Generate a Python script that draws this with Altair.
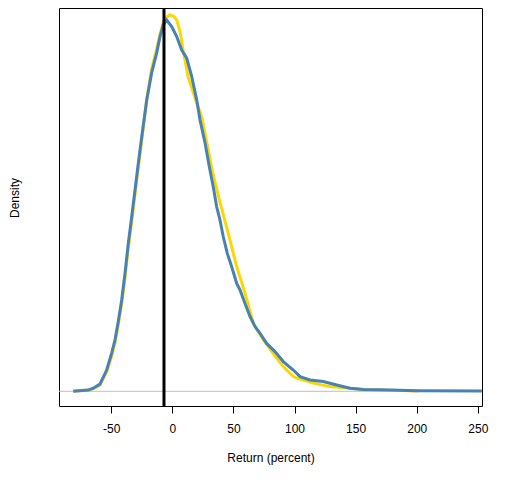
import altair as alt
import pandas as pd

# Blue series (density x 1000)
blue_x = [-81.0, -68.7, -64.6, -59.2, -53.7, -49.6, -46.9, -44.2, -41.4, -38.7, -36.0, -33.2, -30.5,
          -27.8, -25.0, -20.9, -16.9, -12.8, -10.1, -7.4, -4.6, -0.5, 3.6, 7.7, 11.8, 15.9, 20.0,
          22.7, 26.8, 30.3, 33.5, 36.3, 39.0, 41.7, 45.0, 48.6, 52.7, 55.4, 59.5, 63.6, 67.7, 71.8,
          77.2, 84.0, 90.8, 99.0, 104.5, 112.7, 123.5, 134.5, 145.4, 156.3, 178.1, 200.0, 253.2]
blue_y = [0.0, 0.04, 0.10, 0.23, 0.68, 1.22, 1.64, 2.23, 2.92, 3.77, 4.73, 5.58, 6.44,
          7.29, 8.14, 9.31, 10.18, 10.81, 11.33, 11.71, 11.87, 11.66, 11.34, 10.91, 10.65, 10.06, 9.31,
          8.67, 7.94, 7.18, 6.54, 5.90, 5.48, 4.94, 4.41, 3.98, 3.45, 3.24, 2.81, 2.39, 2.07, 1.85,
          1.53, 1.27, 0.95, 0.68, 0.47, 0.36, 0.31, 0.20, 0.10, 0.06, 0.04, 0.02, 0.01]

# Gold series
gold_x = [-81.0, -68.7, -64.6, -59.2, -53.7, -49.6, -46.9, -44.2, -41.4, -38.7, -36.0, -33.2, -30.5,
          -27.8, -25.0, -20.9, -16.9, -12.8, -10.1, -7.4, -4.6, -1.9, 1.4, 3.6, 6.3, 7.7, 9.0, 11.2,
          13.1, 15.9, 20.0, 24.1, 27.5, 33.0, 38.5, 45.8, 52.7, 59.5, 66.3, 74.5, 85.4, 90.8, 99.0,
          101.8, 115.4, 129.0, 145.4, 156.3, 178.1, 201.0]
gold_y = [0.0, 0.04, 0.09, 0.20, 0.62, 1.12, 1.55, 2.12, 2.80, 3.62, 4.58, 5.43, 6.30,
          7.15, 8.02, 9.35, 10.30, 10.95, 11.40, 11.80, 11.97, 12.03, 11.98, 11.87, 11.50, 11.18, 10.86, 10.42,
          10.02, 9.70, 9.21, 8.77, 8.10, 7.00, 6.12, 5.05, 3.98, 3.14, 2.17, 1.64, 1.06, 0.79, 0.47,
          0.42, 0.26, 0.15, 0.10, 0.06, 0.03, 0.01]

vline_x = [-6.8]
tick_values = [-50, 0, 50, 100, 150, 200, 250]

blue_df = pd.DataFrame({"x": blue_x, "y": blue_y})
gold_df = pd.DataFrame({"x": gold_x, "y": gold_y})
vline_df = pd.DataFrame({"x": vline_x})

FONT = "Liberation Sans"

xscale = alt.Scale(domain=[-92.7, 253.4], nice=False, zero=False)
yscale = alt.Scale(domain=[-0.47, 12.254], nice=False, zero=False)

xaxis = alt.Axis(values=tick_values, title="Return (percent)", grid=False, domain=False,
                 tickSize=7, tickColor="black", tickWidth=1,
                 labelExpr="datum.value + ''",
                 labelFont=FONT, labelFontSize=12, labelColor="black",
                 labelBaseline="alphabetic", labelPadding=19.5, labelFlush=False, labelOverlap=False,
                 titleFont=FONT, titleFontSize=12, titleFontWeight="normal", titleColor="black",
                 titleBaseline="alphabetic", titleY=55)
yaxis = alt.Axis(title="Density", labels=False, ticks=False, domain=False, grid=False,
                 titleFont=FONT, titleFontSize=12, titleFontWeight="normal", titleColor="black",
                 titleAngle=270, titleAlign="center", titleBaseline="alphabetic",
                 titleX=-41, titleY=189.5)

base_x = alt.X("x:Q", scale=xscale, axis=xaxis)
base_y = alt.Y("y:Q", scale=yscale, axis=yaxis)

zero_line = alt.Chart(pd.DataFrame({"y": [0]})).mark_rule(color="#BEBEBE", strokeWidth=1).encode(
    y=alt.Y("y:Q", scale=yscale, axis=yaxis)
)

gold_line = alt.Chart(gold_df).mark_line(color="#FFD700", strokeWidth=3, clip=True).encode(
    x=base_x, y=base_y
)
blue_line = alt.Chart(blue_df).mark_line(color="#4682B4", strokeWidth=3, clip=True).encode(
    x=base_x, y=base_y
)
vline = alt.Chart(vline_df).mark_rule(color="black", strokeWidth=3).encode(
    x=alt.X("x:Q", scale=xscale, axis=xaxis)
)

chart = alt.layer(zero_line, gold_line, blue_line, vline).properties(
    width=423, height=398,
    autosize=alt.AutoSizeParams(type="none"),
    padding={"left": 51, "top": 0, "right": 20, "bottom": 70},
).configure(
    background="white",
    view=alt.ViewConfig(stroke="black", strokeWidth=1),
)

chart.save("out.html", embed_options={"renderer": "svg", "actions": False})
